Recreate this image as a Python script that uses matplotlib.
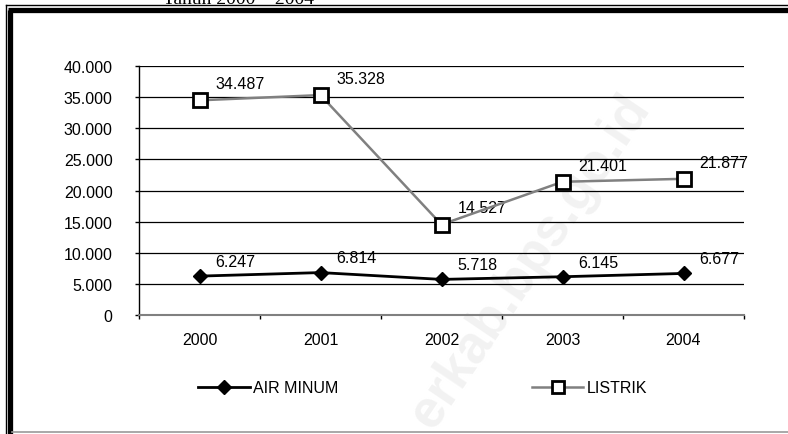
import matplotlib
matplotlib.use("Agg")
import matplotlib.pyplot as plt
from matplotlib.lines import Line2D
from matplotlib.ticker import FuncFormatter, FixedLocator

plt.rcParams['font.family'] = ['Liberation Sans', 'DejaVu Sans']

years = ['2000', '2001', '2002', '2003', '2004']
air_minum = [6247, 6814, 5718, 6145, 6677]
listrik = [34487, 35328, 14527, 21401, 21877]
yticks = [0, 5000, 10000, 15000, 20000, 25000, 30000, 35000, 40000]
title_text = 'Tahun 2000 \u2013 2004'
series_names = ['AIR MINUM', 'LISTRIK']
watermark = 'erkab.bps.go.id'

W, H = 788, 435
fig = plt.figure(figsize=(W / 100, H / 100), dpi=100)
FS = 11.5

def fmt(v, pos=None):
    return f"{int(round(v)):,}".replace(',', '.')

# watermark (behind everything)
fig.text(530 / W, 1 - 262 / H, watermark, rotation=56, fontsize=38, color='#f2f2f2',
         ha='center', va='center', fontweight='bold', zorder=0)

ax = fig.add_axes([139 / W, 1 - 316 / H, (744 - 139) / W, (316 - 67) / H])
ax.set_zorder(2)
ax.set_facecolor('none')
x = list(range(len(years)))

ax.plot(x, listrik, color='#808080', lw=1.8, marker='s', ms=10, mfc='white',
        mec='black', mew=2, zorder=4, label=series_names[1])
ax.plot(x, air_minum, color='black', lw=2, marker='D', ms=7, mfc='black',
        mec='black', zorder=5, label=series_names[0])

for xi, v in zip(x, listrik):
    ax.annotate(fmt(v), (xi, v), xytext=(11.5, 12), textcoords='offset points',
                ha='left', va='center', fontsize=FS, color='black')
for xi, v in zip(x, air_minum):
    ax.annotate(fmt(v), (xi, v), xytext=(11.5, 10.5), textcoords='offset points',
                ha='left', va='center', fontsize=FS, color='black')

ax.set_xlim(-0.5, len(years) - 0.5)
ax.set_ylim(0, 40000)
ax.set_yticks(yticks)
ax.yaxis.set_major_formatter(FuncFormatter(fmt))
ax.set_xticks(x)
ax.set_xticklabels(years)
ax.xaxis.set_minor_locator(FixedLocator([i + 0.5 for i in range(-1, len(years))]))
ax.tick_params(axis='x', which='major', length=0, pad=12.5, labelsize=FS)
ax.tick_params(axis='x', which='minor', length=3, width=1, color='black', direction='out')
ax.tick_params(axis='y', which='major', length=3, width=1, direction='out', pad=16, labelsize=FS)
ax.grid(axis='y', color='black', lw=0.9, zorder=1)
ax.set_axisbelow(True)
for s in ['top', 'right']:
    ax.spines[s].set_visible(False)
ax.spines['left'].set_color('black')
ax.spines['left'].set_linewidth(1)
ax.spines['bottom'].set_color('#808080')
ax.spines['bottom'].set_linewidth(1.5)

# legend entries
h_air = Line2D([], [], color='black', lw=2, marker='D', ms=7, mfc='black', mec='black')
h_lis = Line2D([], [], color='#808080', lw=1.8, marker='s', ms=8, mfc='white', mec='black', mew=2)
ly = 1 - 389 / H
leg1 = fig.legend([h_air], [series_names[0]], loc='center left', bbox_to_anchor=(198 / W, ly),
                  frameon=False, borderpad=0, borderaxespad=0, handlelength=3.25,
                  handletextpad=0.2, fontsize=FS)
leg2 = fig.legend([h_lis], [series_names[1]], loc='center left', bbox_to_anchor=(532 / W, ly),
                  frameon=False, borderpad=0, borderaxespad=0, handlelength=3.2,
                  handletextpad=0.2, fontsize=FS)

# frame lines (double border on left and top, thin gray at bottom)
def fl(xs, ys, **kw):
    fig.add_artist(Line2D([v / W for v in xs], [1 - v / H for v in ys], transform=fig.transFigure, **kw))

fl([6, 6], [6, H], color='black', lw=1)
fl([6, W], [6, 6], color='black', lw=1)
fl([10, 10], [10.5, H], color='black', lw=3.8, solid_capstyle='butt')
fl([8, W], [10.5, 10.5], color='black', lw=3.8, solid_capstyle='butt')
fl([12, W], [433, 433], color='#999999', lw=1.2)

# cut-off title
fig.text(163 / W, 1 - 4 / H, title_text, family=['Liberation Serif', 'DejaVu Serif'],
         fontsize=14, ha='left', va='baseline', color='black')

fig.savefig('out.png', dpi=100)
